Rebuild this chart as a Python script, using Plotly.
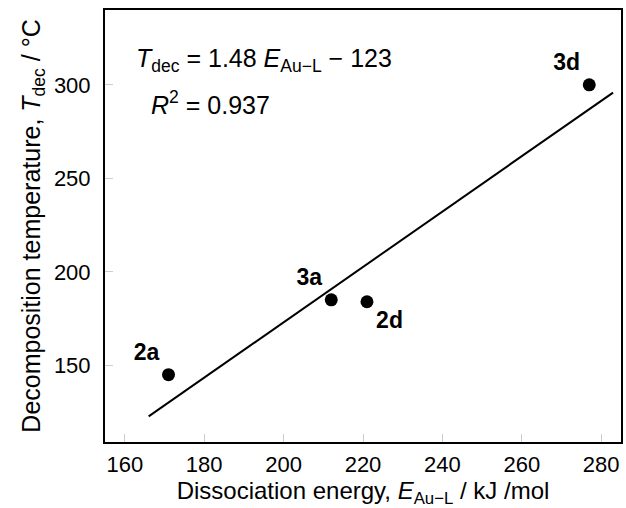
import plotly.graph_objects as go

energy = [171, 212, 221, 277]
tdec = [145, 185, 184, 300]
names = ["2a", "3a", "2d", "3d"]
label_pos = ["top left", "top left", "bottom right", "top left"]
slope = 1.48
intercept = -123
fit_x = [166, 283]
fit_y = [slope * v + intercept for v in fit_x]

font = "Liberation Sans, Arial, sans-serif"
fig = go.Figure()
fig.add_trace(go.Scatter(x=fit_x, y=fit_y, mode="lines",
                         line=dict(color="black", width=2), showlegend=False))
fig.add_trace(go.Scatter(x=energy, y=tdec, mode="markers+text",
                         marker=dict(color="black", size=13),
                         text=["<b>%s</b>" % n for n in names],
                         textposition=label_pos,
                         textfont=dict(size=23, color="black", family=font),
                         showlegend=False))
fig.add_annotation(x=0.056, y=0.884, xref="paper", yref="paper", xanchor="left", yanchor="middle",
                   text="<i>T</i><sub>dec</sub> = 1.48 <i>E</i><sub>Au−L</sub> − 123",
                   showarrow=False, font=dict(size=25, family=font, color="black"))
fig.add_annotation(x=0.085, y=0.784, xref="paper", yref="paper", xanchor="left", yanchor="middle",
                   text="<i>R</i><sup>2</sup> = 0.937",
                   showarrow=False, font=dict(size=25, family=font, color="black"))

axis_common = dict(showline=True, linecolor="black", linewidth=2, mirror=True,
                   ticks="inside", ticklen=8, tickcolor="#cccccc", tickwidth=1,
                   showgrid=False, zeroline=False,
                   tickfont=dict(size=22, family=font, color="black"))
fig.update_xaxes(range=[155, 285], tickvals=[160, 180, 200, 220, 240, 260, 280],
                 ticklabelstandoff=2,
                 title=dict(text="Dissociation energy, <i>E</i><sub>Au−L</sub> / kJ /mol",
                            font=dict(size=24, family=font, color="black"), standoff=9),
                 **axis_common)
fig.update_yaxes(range=[109, 340], tickvals=[150, 200, 250, 300],
                 ticklabelstandoff=8,
                 title=dict(text="Decomposition temperature, <i>T</i><sub>dec</sub> / °C",
                            font=dict(size=25, family=font, color="black"), standoff=6),
                 **axis_common)
fig.update_layout(width=626, height=508, margin=dict(l=105, r=3, t=10, b=66),
                  plot_bgcolor="white", paper_bgcolor="white")
fig.write_html("out.html")
